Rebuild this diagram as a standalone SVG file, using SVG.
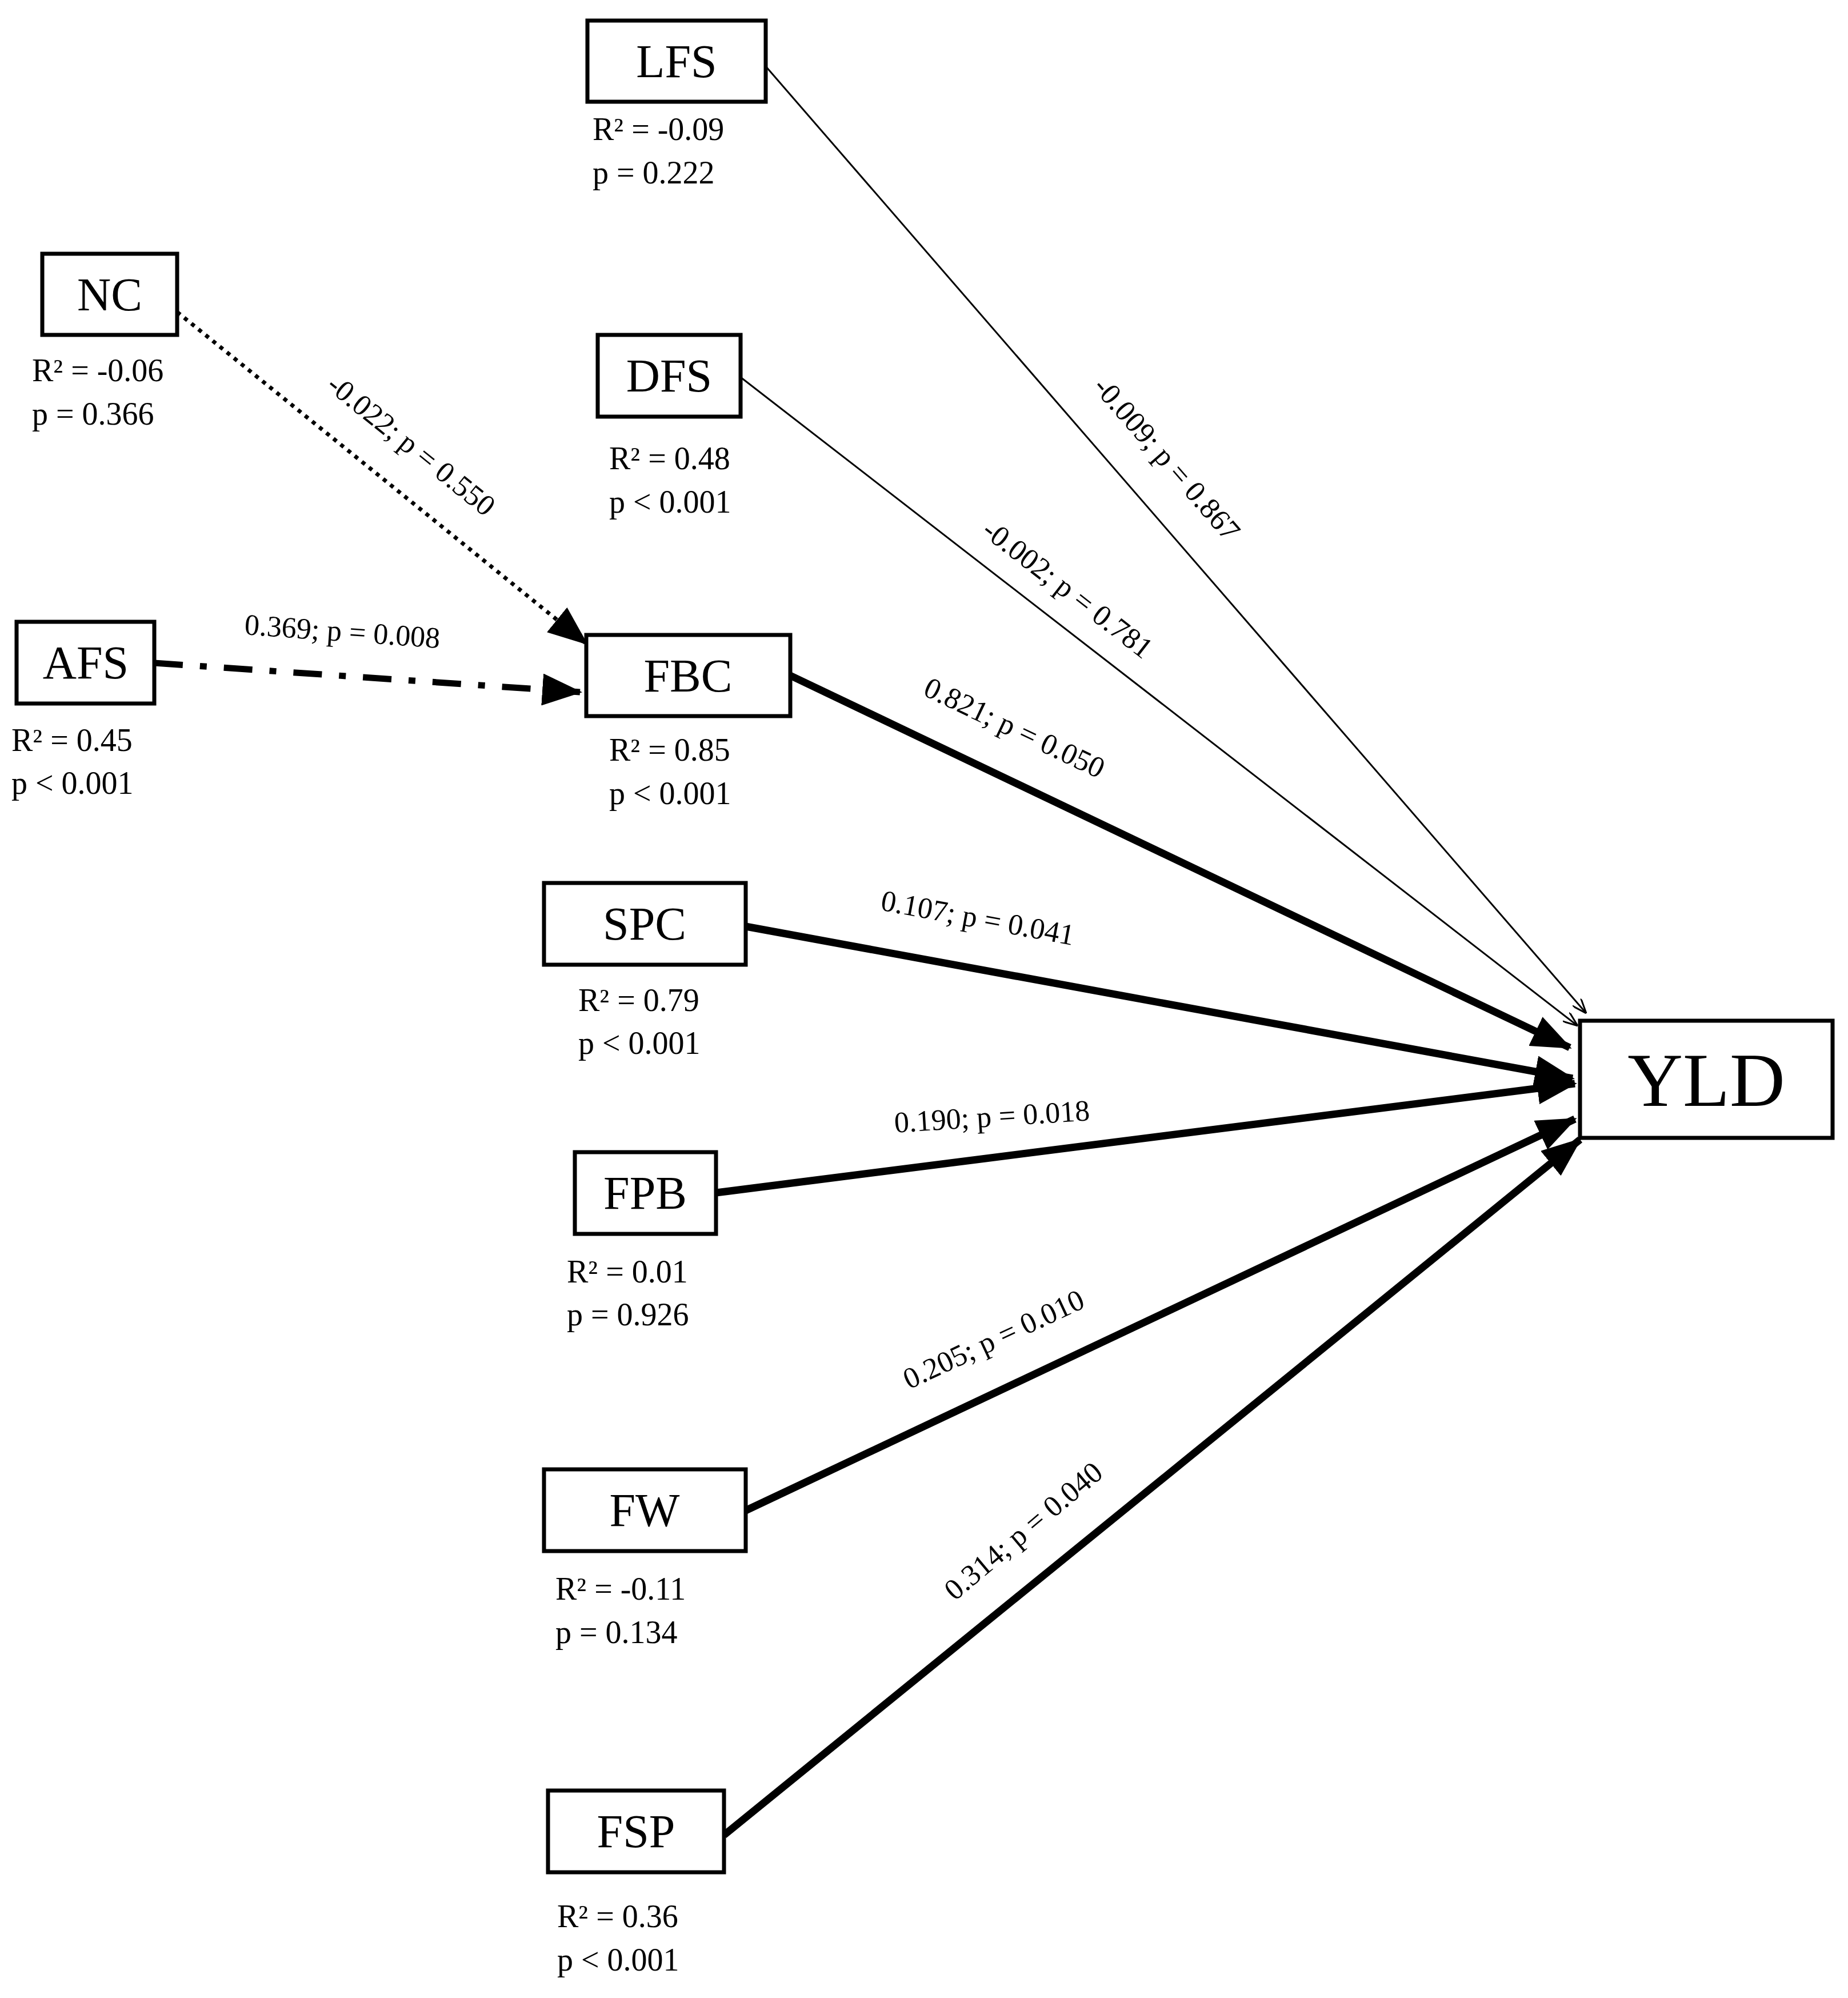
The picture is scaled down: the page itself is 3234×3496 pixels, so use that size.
<svg xmlns="http://www.w3.org/2000/svg" width="3234" height="3496" viewBox="0 0 3234 3496">
<style>
.box{fill:#fff;stroke:#000;stroke-width:7}
.nt{font-family:"Liberation Serif",serif;font-size:82px;text-anchor:middle;dominant-baseline:central}
.st{font-family:"Liberation Serif",serif;font-size:56px}
.el{font-family:"Liberation Serif",serif;font-size:52px;text-anchor:middle}
.thick{stroke:#000;stroke-width:13;fill:none}
.thin{stroke:#000;stroke-width:3;fill:none}
</style>
<defs>
<marker id="big" markerUnits="userSpaceOnUse" markerWidth="70" markerHeight="56" refX="66" refY="28" orient="auto"><path d="M0,0 L70,28 L0,56 Z"/></marker>
<marker id="small" markerUnits="userSpaceOnUse" markerWidth="26" markerHeight="20" refX="26" refY="10" orient="auto"><path d="M0,0 L26,10 L0,20" fill="none" stroke="#000" stroke-width="3"/></marker>
</defs>
<g id="connectors">
<line class="thin" x1="1340" y1="116" x2="2776" y2="1773" marker-end="url(#small)"/>
<line class="thin" x1="1296" y1="660" x2="2761" y2="1795" marker-end="url(#small)"/>
<line class="thick" x1="1383" y1="1182" x2="2747" y2="1833" marker-end="url(#big)"/>
<line class="thick" x1="1305" y1="1621" x2="2752" y2="1887" marker-end="url(#big)"/>
<line class="thick" x1="1253" y1="2087" x2="2756" y2="1896" marker-end="url(#big)"/>
<line class="thick" x1="1305" y1="2643" x2="2756" y2="1958" marker-end="url(#big)"/>
<line class="thick" x1="1267" y1="3211" x2="2765" y2="1994" marker-end="url(#big)"/>
<line stroke="#000" stroke-width="7" stroke-dasharray="7,9" x1="310" y1="546" x2="1026" y2="1126" marker-end="url(#big)"/>
<line stroke="#000" stroke-width="11" stroke-dasharray="50,30,12,30" x1="270" y1="1160" x2="1015" y2="1211" marker-end="url(#big)"/>
<text class="el" transform="translate(2029,814) rotate(49)">-0.009; p = 0.867</text>
<text class="el" transform="translate(1858,1044) rotate(37.8)">-0.002; p = 0.781</text>
<text class="el" transform="translate(709,792) rotate(39)">-0.022; p = 0.550</text>
<text class="el" transform="translate(598,1122) rotate(4)">0.369; p = 0.008</text>
<text class="el" transform="translate(1768,1289) rotate(25.5)">0.821; p = 0.050</text>
<text class="el" transform="translate(1708,1623) rotate(10.4)">0.107; p = 0.041</text>
<text class="el" transform="translate(1737,1971) rotate(-3.6)">0.190; p = 0.018</text>
<text class="el" transform="translate(1746,2359) rotate(-25)">0.205; p = 0.010</text>
<text class="el" transform="translate(1802,2692) rotate(-40)">0.314; p = 0.040</text>
</g>
<g id="LFS"><rect class="box" x="1028" y="36" width="312" height="142"/><text class="nt" x="1184" y="107">LFS</text><text class="st" x="1037" y="245">R² = -0.09</text><text class="st" x="1037" y="321">p = 0.222</text></g>
<g id="NC"><rect class="box" x="74" y="444" width="236" height="142"/><text class="nt" x="192" y="515">NC</text><text class="st" x="56" y="667">R² = -0.06</text><text class="st" x="56" y="743">p = 0.366</text></g>
<g id="DFS"><rect class="box" x="1046" y="586" width="250" height="143"/><text class="nt" x="1171" y="657">DFS</text><text class="st" x="1066" y="821">R² = 0.48</text><text class="st" x="1066" y="897">p &lt; 0.001</text></g>
<g id="AFS"><rect class="box" x="29" y="1088" width="241" height="143"/><text class="nt" x="150" y="1159">AFS</text><text class="st" x="20" y="1314">R² = 0.45</text><text class="st" x="20" y="1389">p &lt; 0.001</text></g>
<g id="FBC"><rect class="box" x="1026" y="1111" width="357" height="142"/><text class="nt" x="1204" y="1182">FBC</text><text class="st" x="1066" y="1331">R² = 0.85</text><text class="st" x="1066" y="1407">p &lt; 0.001</text></g>
<g id="SPC"><rect class="box" x="952" y="1545" width="353" height="143"/><text class="nt" x="1128" y="1616">SPC</text><text class="st" x="1012" y="1769">R² = 0.79</text><text class="st" x="1012" y="1844">p &lt; 0.001</text></g>
<g id="FPB"><rect class="box" x="1006" y="2016" width="247" height="143"/><text class="nt" x="1129" y="2087">FPB</text><text class="st" x="992" y="2244">R² = 0.01</text><text class="st" x="992" y="2319">p = 0.926</text></g>
<g id="FW"><rect class="box" x="952" y="2571" width="353" height="143"/><text class="nt" x="1128" y="2642">FW</text><text class="st" x="972" y="2799">R² = -0.11</text><text class="st" x="972" y="2875">p = 0.134</text></g>
<g id="FSP"><rect class="box" x="959" y="3133" width="308" height="143"/><text class="nt" x="1113" y="3204">FSP</text><text class="st" x="975" y="3372">R² = 0.36</text><text class="st" x="975" y="3448">p &lt; 0.001</text></g>
<g id="YLD"><rect class="box" x="2765" y="1786" width="442" height="205"/><text class="nt" x="2986" y="1890" style="font-size:134px">YLD</text></g>
</svg>
